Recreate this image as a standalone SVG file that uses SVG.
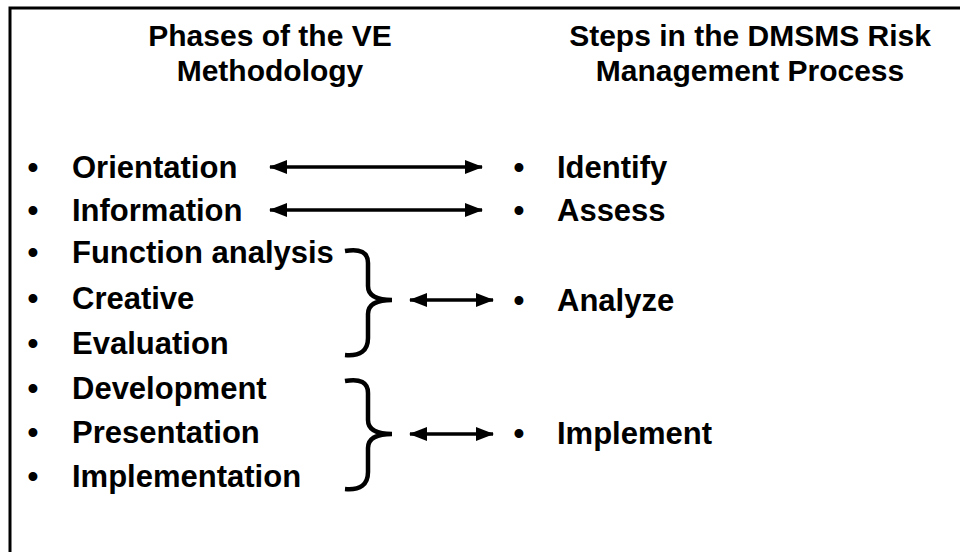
<svg xmlns="http://www.w3.org/2000/svg" width="960" height="552" viewBox="0 0 960 552">
<style>
.t{font-family:"Liberation Sans",Arial,sans-serif;font-weight:bold;font-size:31px;fill:#000}
.h{text-anchor:middle;font-size:30px}
.c{fill:none;stroke:#000;stroke-width:3.5}
.b{fill:none;stroke:#000;stroke-width:4.5;stroke-linecap:butt}
</style>
<defs>
<marker id="ah" viewBox="0 0 18 14" refX="17" refY="7" markerWidth="18" markerHeight="14" orient="auto-start-reverse" markerUnits="userSpaceOnUse">
<path d="M0,0 L18,7 L0,14 z" fill="#000"/>
</marker>
</defs>
<rect width="960" height="552" fill="#fff"/>
<path d="M10,560 V8 H960" fill="none" stroke="#000" stroke-width="3"/>
<g id="title-left"><text class="t h" x="270" y="46">Phases of the VE</text><text class="t h" x="270" y="81">Methodology</text></g>
<g id="title-right"><text class="t h" x="750" y="46">Steps in the DMSMS Risk</text><text class="t h" x="750" y="81">Management Process</text></g>
<g id="left-list">
<g id="orientation"><text class="t" x="27.6" y="178">•</text><text class="t" x="72" y="178">Orientation</text></g>
<g id="information"><text class="t" x="27.6" y="221">•</text><text class="t" x="72" y="221">Information</text></g>
<g id="function-analysis"><text class="t" x="27.6" y="263">•</text><text class="t" x="72" y="263">Function analysis</text></g>
<g id="creative"><text class="t" x="27.6" y="309">•</text><text class="t" x="72" y="309">Creative</text></g>
<g id="evaluation"><text class="t" x="27.6" y="354">•</text><text class="t" x="72" y="354">Evaluation</text></g>
<g id="development"><text class="t" x="27.6" y="399">•</text><text class="t" x="72" y="399">Development</text></g>
<g id="presentation"><text class="t" x="27.6" y="443">•</text><text class="t" x="72" y="443">Presentation</text></g>
<g id="implementation"><text class="t" x="27.6" y="487">•</text><text class="t" x="72" y="487">Implementation</text></g>
</g>
<g id="right-list">
<g id="identify"><text class="t" x="513.6" y="178">•</text><text class="t" x="557" y="178">Identify</text></g>
<g id="assess"><text class="t" x="513.6" y="221">•</text><text class="t" x="557" y="221">Assess</text></g>
<g id="analyze"><text class="t" x="513.6" y="311">•</text><text class="t" x="557" y="311">Analyze</text></g>
<g id="implement"><text class="t" x="513.6" y="444">•</text><text class="t" x="557" y="444">Implement</text></g>
</g>
<g id="connectors">
<path class="b" d="M345,251 Q368,247 368,263 L368,286 Q368,300 392,300 Q368,300 368,314 L368,338 Q368,357 345,355"/>
<path class="b" d="M345,381 Q368,377 368,393 L368,420 Q368,434 392,434 Q368,434 368,448 L368,472 Q368,491 345,489"/>
<line class="c" x1="270" y1="167" x2="482" y2="167" marker-start="url(#ah)" marker-end="url(#ah)"/>
<line class="c" x1="270" y1="210" x2="482" y2="210" marker-start="url(#ah)" marker-end="url(#ah)"/>
<line class="c" x1="410" y1="300" x2="493" y2="300" marker-start="url(#ah)" marker-end="url(#ah)"/>
<line class="c" x1="410" y1="434" x2="493" y2="434" marker-start="url(#ah)" marker-end="url(#ah)"/>
</g>
</svg>
